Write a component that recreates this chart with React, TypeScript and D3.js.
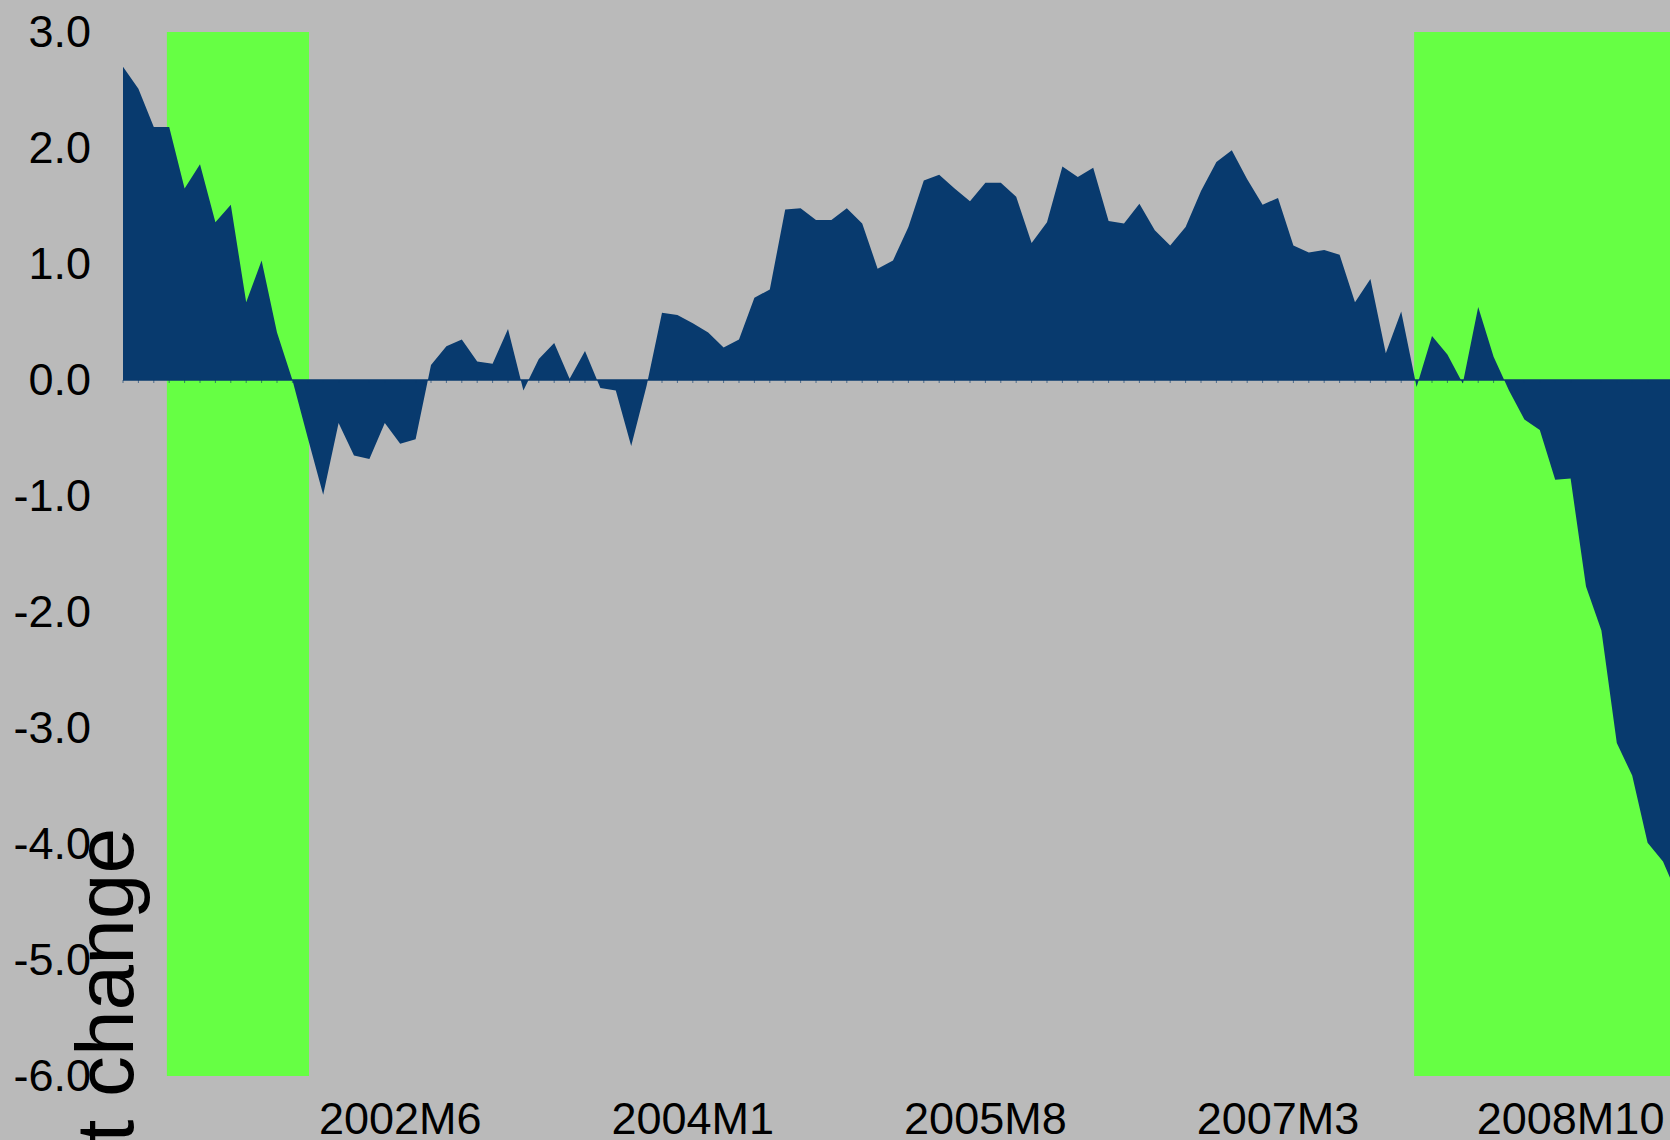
import React from "react";
import * as d3 from "d3";

// Monthly percent change, starting 2000M12
const startYear = 2000;
const startMonth = 12;
const values: number[] = [
  2.70, 2.51, 2.18, 2.18, 1.65, 1.86, 1.36, 1.51, 0.67, 1.03,
  0.41, 0.00, -0.50, -0.99, -0.37, -0.65, -0.68, -0.37, -0.55, -0.51,
  0.13, 0.29, 0.35, 0.16, 0.14, 0.44, -0.09, 0.18, 0.32, 0.01,
  0.25, -0.07, -0.09, -0.57, -0.05, 0.58, 0.56, 0.49, 0.41, 0.28,
  0.35, 0.71, 0.78, 1.47, 1.48, 1.38, 1.38, 1.48, 1.35, 0.96,
  1.03, 1.32, 1.72, 1.77, 1.65, 1.54, 1.70, 1.70, 1.58, 1.18,
  1.36, 1.84, 1.75, 1.83, 1.37, 1.35, 1.52, 1.29, 1.16, 1.32,
  1.63, 1.88, 1.98, 1.73, 1.51, 1.57, 1.16, 1.10, 1.12, 1.08,
  0.67, 0.87, 0.23, 0.59, -0.06, 0.38, 0.22, -0.03, 0.63, 0.20,
  -0.09, -0.34, -0.43, -0.86, -0.85, -1.78, -2.16, -3.13, -3.41, -3.99,
  -4.15, -4.46,
];
const categories: string[] = values.map((_, i) => {
  const m = startMonth - 1 + i;
  return `${startYear + Math.floor(m / 12)}M${(m % 12) + 1}`;
});
const tickLabels = ["2002M6", "2004M1", "2005M8", "2007M3", "2008M10"];
const yTicks = [3, 2, 1, 0, -1, -2, -3, -4, -5, -6];
// recession shading, in category-index units
const recessionStarts = [2.85, 83.84];
const recessionEnds = [12.08, 130];
const yTitle = "Percent change";

const W = 1670;
const H = 1140;
const BG = "#BABABA";
const GREEN = "#66FF44";
const NAVY = "#083A6E";
const FONT = "'Liberation Sans', Arial, sans-serif";

export default function App() {
  const x = d3.scaleLinear().domain([0, 100]).range([123, 123 + 1540]);
  const y = d3.scaleLinear().domain([-6, 3]).range([1076, 32]);
  const area = d3
    .area<number>()
    .x((_, i) => x(i))
    .y0(y(0))
    .y1((d) => y(d));
  const lastX = x(values.length - 1);

  return (
    <div style={{ position: "fixed", left: 0, top: 0, width: W, height: H, background: BG }}>
      <svg width={W} height={H} style={{ display: "block" }}>
        <rect x={0} y={0} width={W} height={H} fill={BG} />
        {recessionStarts.map((s, k) => (
          <rect
            key={k}
            x={x(s)}
            y={y(3)}
            width={x(recessionEnds[k]) - x(s)}
            height={y(-6) - y(3)}
            fill={GREEN}
          />
        ))}
        <path d={area(values) || ""} fill={NAVY} />
        <line x1={x(0)} x2={lastX} y1={y(0)} y2={y(0)} stroke={NAVY} strokeWidth={1.5} />
        {categories.map((c, i) => (
          <line key={c} x1={x(i)} x2={x(i)} y1={y(0)} y2={y(0) + 3} stroke={NAVY} strokeWidth={1} opacity={0.6} />
        ))}
        {yTicks.map((t) => (
          <text
            key={t}
            x={91}
            y={y(t)}
            dy="0.33em"
            textAnchor="end"
            fontFamily={FONT}
            fontSize={45}
            fill="#000"
          >
            {t.toFixed(1)}
          </text>
        ))}
        {tickLabels.map((l) => {
          const i = categories.indexOf(l);
          return (
            <text
              key={l}
              x={x(i)}
              y={1134}
              textAnchor="middle"
              fontFamily={FONT}
              fontSize={45}
              fill="#000"
            >
              {l}
            </text>
          );
        })}
        <text
          transform={`translate(133, 828) rotate(-90)`}
          textAnchor="end"
          fontFamily={FONT}
          fontSize={82}
          fill="#000"
        >
          {yTitle}
        </text>
      </svg>
    </div>
  );
}
